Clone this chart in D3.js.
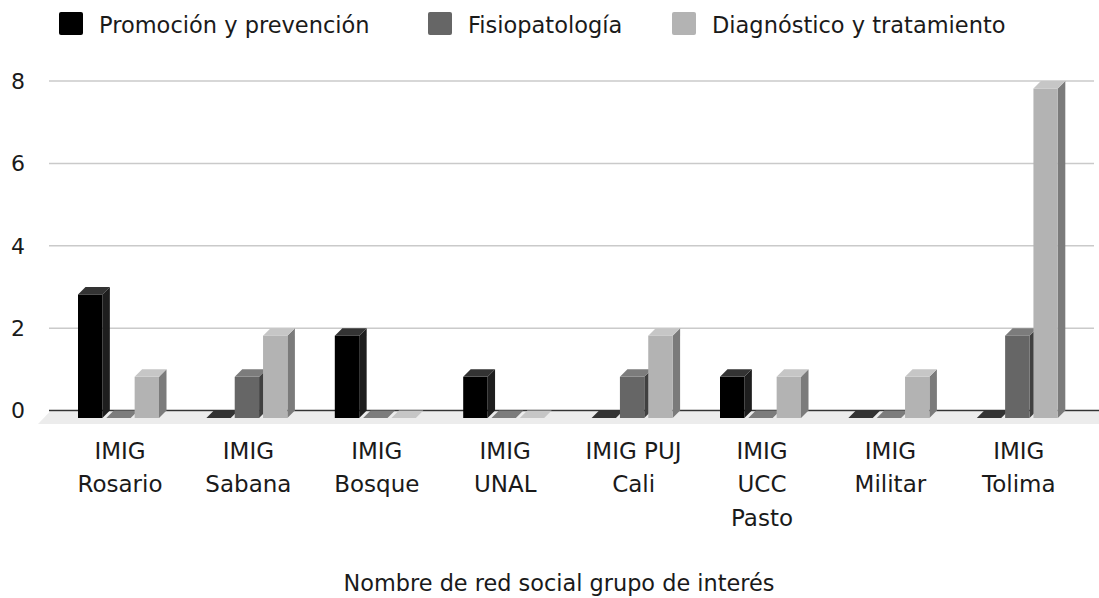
<!DOCTYPE html>
<html>
<head>
<meta charset="utf-8">
<script src="https://cdn.jsdelivr.net/npm/d3@7"></script>
<style>
  html, body { margin: 0; padding: 0; background: #fff; }
  svg { display: block; font-family: "DejaVu Sans", sans-serif; }
</style>
</head>
<body>
<svg id="chart" width="1099" height="598"></svg>
<script>
const categories = [
  ["IMIG", "Rosario"],
  ["IMIG", "Sabana"],
  ["IMIG", "Bosque"],
  ["IMIG", "UNAL"],
  ["IMIG PUJ", "Cali"],
  ["IMIG", "UCC", "Pasto"],
  ["IMIG", "Militar"],
  ["IMIG", "Tolima"]
];
const seriesNames = ["Promoción y prevención", "Fisiopatología", "Diagnóstico y tratamiento"];
const promocion   = [3, 0, 2, 1, 0, 1, 0, 0];
const fisiopat    = [0, 1, 0, 0, 1, 0, 0, 2];
const diagnostico = [1, 2, 0, 0, 2, 1, 1, 8];
const yTicks = [0, 2, 4, 6, 8];
const axisTitle = "Nombre de red social grupo de interés";

const seriesValues = [promocion, fisiopat, diagnostico];
const frontColors = ["#000000", "#666666", "#b3b3b3"];
const topColors   = ["#333333", "#7c7c7c", "#c6c6c6"];
const sideColors  = ["#1e1e1e", "#404040", "#7b7b7b"];

const svg = d3.select("#chart");
const DX = 7.5, DY = 7.5;

const catIdx = categories.map((d, i) => i);
const x = d3.scaleBand().domain(catIdx).range([54.3, 1081.5]).padding(0);
const x1 = d3.scaleBand().domain([0, 1, 2]).range([-40.5, 40.5]).paddingInner(0.14).paddingOuter(0);
const y = d3.scaleLinear().domain([0, 8]).range([410.5, 81]);

// Back wall gridlines
svg.append("g").selectAll("line").data(yTicks.filter(t => t !== 0)).join("line")
  .attr("x1", 49).attr("x2", 1094)
  .attr("y1", d => y(d)).attr("y2", d => y(d))
  .attr("stroke", "#cacaca").attr("stroke-width", 1.5);

// Floor
svg.append("polygon")
  .attr("points", [[50, y(0) + 1], [1099, y(0) + 1], [1099, y(0) + 13.5], [38, y(0) + 13.5]].map(p => p.join(",")).join(" "))
  .attr("fill", "#ececec");

// zero line
svg.append("line")
  .attr("x1", 49).attr("x2", 1099)
  .attr("y1", y(0)).attr("y2", y(0))
  .attr("stroke", "#333").attr("stroke-width", 1.5);

// Y tick labels
svg.append("g").selectAll("text").data(yTicks).join("text")
  .attr("x", 25).attr("y", d => y(d))
  .attr("dy", "0.36em")
  .attr("text-anchor", "end")
  .attr("font-size", 22)
  .attr("fill", "#1a1a1a")
  .text(d => d);

// Bars
const barsG = svg.append("g");
catIdx.forEach(ci => {
  [0, 1, 2].forEach(si => {
    const v = seriesValues[si][ci];
    const fx = x(ci) + x.bandwidth() / 2 + x1(si);
    const w = x1.bandwidth();
    const fTop = y(v) + DY, fBot = y(0) + DY;
    const g = barsG.append("g");
    if (v > 0) {
      g.append("polygon")
        .attr("points", [[fx + w, fTop], [fx + w + DX, fTop - DY], [fx + w + DX, fBot - DY], [fx + w, fBot]].map(p => p.join(",")).join(" "))
        .attr("fill", sideColors[si]);
      g.append("rect")
        .attr("x", fx).attr("y", fTop).attr("width", w).attr("height", fBot - fTop)
        .attr("fill", frontColors[si]);
    }
    g.append("polygon")
      .attr("points", [[fx, fTop], [fx + DX, fTop - DY], [fx + w + DX, fTop - DY], [fx + w, fTop]].map(p => p.join(",")).join(" "))
      .attr("fill", topColors[si]);
  });
});

// Category labels
const catG = svg.append("g");
categories.forEach((lines, ci) => {
  const cx = x(ci) + x.bandwidth() / 2 + 1.5;
  const t = catG.append("text")
    .attr("x", cx)
    .attr("y", 459)
    .attr("text-anchor", "middle")
    .attr("font-size", 23)
    .attr("fill", "#1a1a1a");
  lines.forEach((ln, li) => {
    t.append("tspan").attr("x", cx).attr("y", 459 + li * 33.4).text(ln);
  });
});

// Axis title
svg.append("text")
  .attr("x", 559).attr("y", 591)
  .attr("text-anchor", "middle")
  .attr("font-size", 22.4)
  .attr("fill", "#1a1a1a")
  .text(axisTitle);

// Legend
const legendX = [59, 428, 672];
const lg = svg.append("g");
seriesNames.forEach((name, i) => {
  lg.append("rect")
    .attr("x", legendX[i]).attr("y", 12).attr("width", 24).attr("height", 23)
    .attr("rx", 2).attr("fill", frontColors[i]);
  lg.append("text")
    .attr("x", legendX[i] + 40).attr("y", 33)
    .attr("font-size", 22.5)
    .attr("fill", "#1a1a1a")
    .text(name);
});
</script>
</body>
</html>
